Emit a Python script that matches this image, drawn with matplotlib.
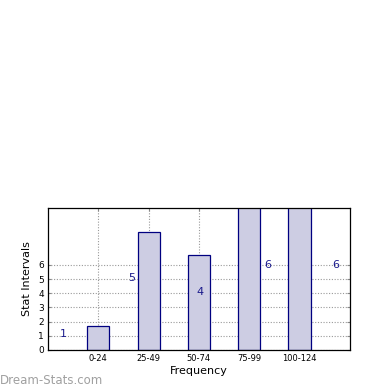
import matplotlib
matplotlib.use("Agg")
import matplotlib.pyplot as plt

categories = ["0-24", "25-49", "50-74", "75-99", "100-124"]
bar_values = [1.7, 8.3, 6.7, 12, 12]
label_texts = ["1", "5", "4", "6", "6"]
label_x = [-0.7, 0.67, 2.02, 3.36, 4.72]
label_y = [1.1, 5.1, 4.1, 6.0, 6.0]
yticks = [0, 1, 2, 3, 4, 5, 6]

fig = plt.figure(figsize=(3.9, 3.9), dpi=100)
ax = fig.add_axes([0.123, 0.1026, 0.774, 0.364])
xs = list(range(len(categories)))
ax.bar(xs, bar_values, width=0.44, color="#cdcde3", edgecolor="#000080", linewidth=0.9, zorder=2)
ax.set_xlim(-1, 5)
ax.set_ylim(0, 10)
ax.set_xticks(xs)
ax.set_xticklabels(categories, fontsize=6)
ax.set_yticks(yticks)
ax.set_yticklabels([str(v) for v in yticks], fontsize=6.5)
ax.tick_params(direction="in", length=2, top=True, right=True, pad=3, color="#888888")
ax.grid(True, linestyle=(0, (1, 1.5)), color="#999999", linewidth=0.8, zorder=1)
for s in ax.spines.values():
    s.set_linewidth(0.9)
for t, x, y in zip(label_texts, label_x, label_y):
    ax.text(x, y, t, color="#1a1a8c", fontsize=8, ha="center", va="center", zorder=3)
ax.set_xlabel("Frequency", fontsize=8, labelpad=2)
ax.set_ylabel("Stat Intervals", fontsize=8, labelpad=4)
fig.text(0.0, 0.025, "Dream-Stats.com", color="#a0a0a0", fontsize=8.5, ha="left", va="center")
fig.savefig("out.png", dpi=100)
